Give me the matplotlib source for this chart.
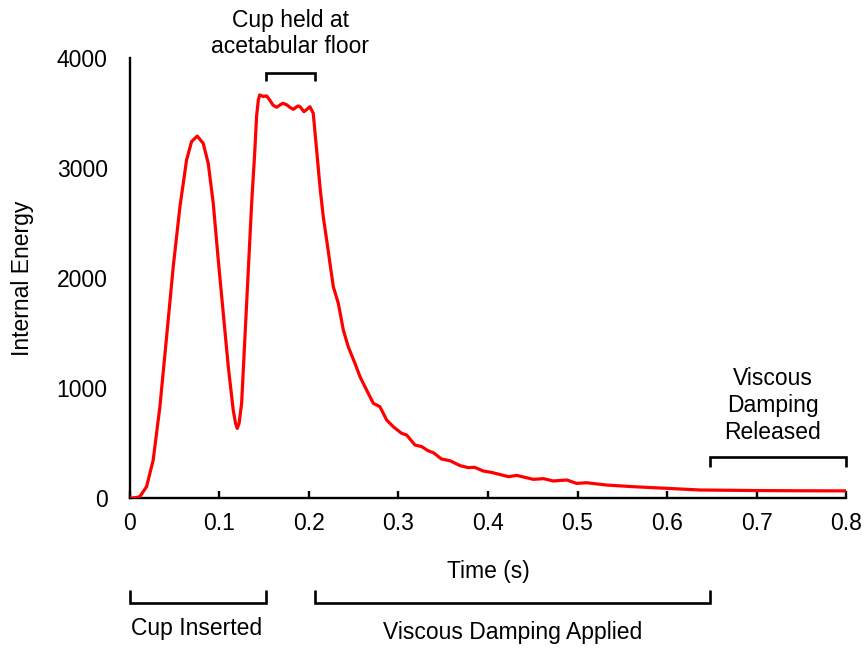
import numpy as np
import matplotlib.pyplot as plt

# ─────────────────────────────────────────────
# Data: internal energy during cup impaction
# ─────────────────────────────────────────────

time_s = [0.000, 0.006, 0.011, 0.0186, 0.026, 0.0335, 0.041, 0.0484, 0.0559, 0.0633,
          0.0689, 0.0752, 0.0819, 0.0875, 0.0931, 0.0987, 0.1043, 0.1099, 0.1154, 0.1180,
          0.1199, 0.1220, 0.1248, 0.1304, 0.136, 0.1395, 0.1415, 0.1435, 0.145, 0.149,
          0.1527, 0.156, 0.160, 0.164, 0.168, 0.171, 0.175, 0.1790, 0.1825, 0.186,
          0.188, 0.190, 0.1944, 0.198, 0.2011, 0.2048, 0.2086, 0.2123, 0.216, 0.2198,
          0.2235, 0.2272, 0.2328, 0.2384, 0.2439, 0.2514, 0.257, 0.2644, 0.2719, 0.2793,
          0.2868, 0.2942, 0.3035, 0.3091, 0.3184, 0.326, 0.333, 0.339, 0.348, 0.3575,
          0.369, 0.378, 0.385, 0.395, 0.404, 0.423, 0.432, 0.4506, 0.462, 0.473,
          0.488, 0.499, 0.510, 0.5326, 0.5624, 0.600, 0.637, 0.700, 0.750, 0.800]

energy = [0, 3, 12, 103, 345, 830, 1466, 2103, 2648, 3073,
          3240, 3290, 3224, 3042, 2679, 2164, 1679, 1194, 800, 680,
          633, 680, 861, 1770, 2679, 3150, 3470, 3620, 3664, 3650,
          3655, 3620, 3570, 3552, 3575, 3588, 3575, 3550, 3533, 3555,
          3564, 3557, 3512, 3535, 3557, 3497, 3164, 2830, 2557, 2345,
          2133, 1921, 1770, 1527, 1375, 1224, 1103, 982, 861, 830,
          709, 648, 588, 573, 482, 467, 430, 412, 355, 339,
          294, 276, 279, 245, 233, 194, 206, 170, 176, 155,
          164, 133, 139, 118, 103, 88, 73, 68, 66, 65]

x_ticks = [0, 0.1, 0.2, 0.3, 0.4, 0.5, 0.6, 0.7, 0.8]
x_tick_labels = ["0", "0.1", "0.2", "0.3", "0.4", "0.5", "0.6", "0.7", "0.8"]
y_ticks = [0, 1000, 2000, 3000, 4000]

# phase brackets: (start, end, label)
phase_hold = (0.152, 0.2067, "Cup held at\nacetabular floor")
phase_insert = (0.0, 0.152, "Cup Inserted")
phase_applied = (0.2067, 0.648, "Viscous Damping Applied")
phase_released = (0.648, 0.80, "Viscous\nDamping\nReleased")

# ─────────────────────────────────────────────
# Style
# ─────────────────────────────────────────────

plt.rcParams['font.family'] = ['Liberation Sans', 'DejaVu Sans']
FS = 16.5
LINE_RED = '#ff0000'
BRACKET_LW = 1.9

fig = plt.figure(figsize=(8.66, 6.5), dpi=100, facecolor='white')
ax = fig.add_axes([0.150, 0.2338, 0.827, 0.677])

ax.plot(time_s, energy, color=LINE_RED, lw=2.3, solid_joinstyle='round',
        solid_capstyle='round', zorder=3)

ax.set_xlim(0, 0.8)
ax.set_ylim(0, 4000)
ax.set_xticks(x_ticks)
ax.set_xticklabels(x_tick_labels)
ax.set_yticks(y_ticks)

for side in ('top', 'right'):
    ax.spines[side].set_visible(False)
for side in ('left', 'bottom'):
    ax.spines[side].set_linewidth(1.7)
    ax.spines[side].set_color('black')

ax.tick_params(axis='x', direction='in', length=5, width=1.7, labelsize=FS, pad=10)
ax.tick_params(axis='y', length=0, labelsize=FS, pad=16)

ax.set_xlabel("Time (s)", fontsize=FS, labelpad=18)
ax.set_ylabel("Internal Energy", fontsize=FS, labelpad=16)


def bracket(x0, x1, y_bar, y_end):
    """Square bracket: horizontal bar at y_bar, ends turned to y_end."""
    ax.plot([x0, x0, x1, x1], [y_end, y_bar, y_bar, y_end], color='black',
            lw=BRACKET_LW, clip_on=False, solid_joinstyle='miter',
            solid_capstyle='butt')


# top bracket over the holding plateau
bracket(phase_hold[0], phase_hold[1], 3864, 3790)
ax.text((phase_hold[0] + phase_hold[1]) / 2, 4220, phase_hold[2], ha='center',
        va='center', fontsize=FS, linespacing=1.15)

# bottom brackets below the time axis
bracket(phase_insert[0], phase_insert[1], -955, -836)
ax.text(0.074, -1182, phase_insert[2], ha='center', va='center', fontsize=FS)

bracket(phase_applied[0], phase_applied[1], -955, -836)
ax.text(0.428, -1225, phase_applied[2], ha='center', va='center', fontsize=FS)

# right bracket above the tail
bracket(phase_released[0], phase_released[1], 373, 282)
ax.text(0.718, 840, phase_released[2], ha='center', va='center', fontsize=FS,
        linespacing=1.22)

plt.savefig("out.png", dpi=100, facecolor='white')
plt.close()
